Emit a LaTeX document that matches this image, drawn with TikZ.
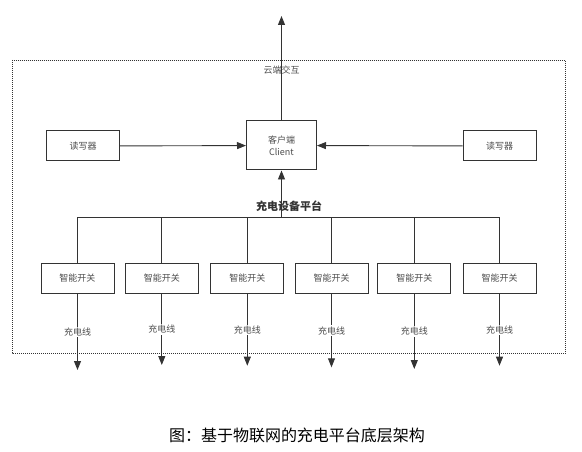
\documentclass[tikz,border=0pt]{standalone}
\usepackage{fontspec}
\newfontfamily\cjk{Noto Sans CJK SC}
\usetikzlibrary{arrows.meta,positioning}
\usepackage{xcolor}
\definecolor{lineColor}{HTML}{333333}
\definecolor{textColor}{HTML}{4d4d4d}

\begin{document}
\begin{tikzpicture}[
    x=1pt, y=-1pt,
    >={Triangle[length=9pt,width=7pt]},
    box/.style={rectangle, draw=lineColor, line width=1pt, fill=white, minimum width=73pt, minimum height=30pt, font=\cjk\fontsize{9}{11.5}\selectfont, text=textColor, inner sep=1pt},
    client/.style={box, minimum width=70pt, minimum height=49pt, align=center},
    link/.style={->, draw=lineColor, line width=0.9pt},
    wire/.style={draw=lineColor, line width=0.9pt},
    edgelabel/.style={font=\cjk\fontsize{9}{11}\selectfont, text=textColor, fill=white, inner sep=1pt},
  ]
  \useasboundingbox (0,0) rectangle (582,452);

  % Frame
  \draw[lineColor, line width=0.8pt, dash pattern=on 1pt off 1pt] (12,60) rectangle (565.7,353);

  % Nodes
  \node[client] (cli) at (281.5,145.5) {客户端\\Client};
  \node[box] (rd1) at (83,146) {读写器};
  \node[box] (rd2) at (499.5,146) {读写器};
  \node[box] (sw1) at (77.5,278.5) {智能开关};
  \node[box] (sw2) at (161.8,278.5) {智能开关};
  \node[box] (sw3) at (247.3,278.5) {智能开关};
  \node[box] (sw4) at (331.5,278.5) {智能开关};
  \node[box] (sw5) at (414.3,278.5) {智能开关};
  \node[box] (sw6) at (499.5,278.5) {智能开关};

  % Free ends
  \coordinate (cloud) at (281.5,16);
  \coordinate (bus) at (281.5,217.3);
  \coordinate (out1) at (77.5,370);
  \coordinate (out2) at (161.8,365);
  \coordinate (out3) at (247.3,365.7);
  \coordinate (out4) at (331.5,367.3);
  \coordinate (out5) at (414.3,369);
  \coordinate (out6) at (499.5,365.7);

  % Edges
  \draw[link] (cli) -- node[edgelabel, pos=0.48, fill=none] {云端交互} (cloud);
  \draw[link] (rd1) -- (cli);
  \draw[link] (rd2) -- (cli);
  \draw[link] (bus) -- node[edgelabel, pos=0.24, xshift=7.5pt, font=\cjk\fontsize{11}{13}\selectfont\bfseries, text=lineColor, fill=none] {充电设备平台} (cli);

  % Bus
  \draw[wire] (sw1.north |- bus) -- (sw6.north |- bus);
  \draw[wire] (sw1.north |- bus) -- (sw1.north);
  \draw[wire] (sw2.north |- bus) -- (sw2.north);
  \draw[wire] (sw3.north |- bus) -- (sw3.north);
  \draw[wire] (sw4.north |- bus) -- (sw4.north);
  \draw[wire] (sw5.north |- bus) -- (sw5.north);
  \draw[wire] (sw6.north |- bus) -- (sw6.north);

  % Charging lines
  \draw[link] (sw1) -- node[edgelabel, pos=0.5] {充电线} (out1);
  \draw[link] (sw2) -- node[edgelabel, pos=0.5] {充电线} (out2);
  \draw[link] (sw3) -- node[edgelabel, pos=0.5] {充电线} (out3);
  \draw[link] (sw4) -- node[edgelabel, pos=0.5] {充电线} (out4);
  \draw[link] (sw5) -- node[edgelabel, pos=0.5] {充电线} (out5);
  \draw[link] (sw6) -- node[edgelabel, pos=0.5] {充电线} (out6);

  % Caption
  \node[font=\cjk\fontsize{16}{18}\selectfont, text=black] (cap) at (297,435) {图：基于物联网的充电平台底层架构};

\end{tikzpicture}
\end{document}
